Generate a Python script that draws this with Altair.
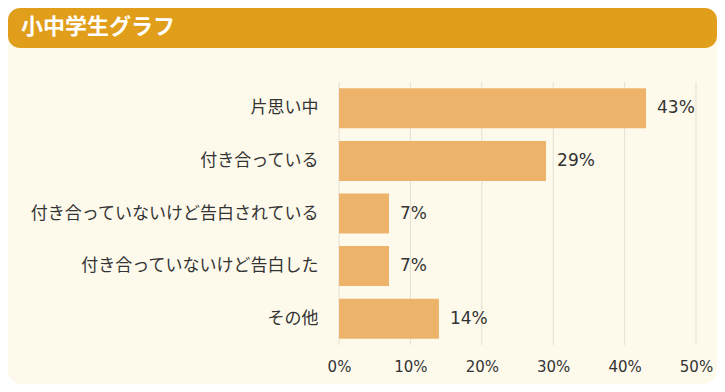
import altair as alt
import pandas as pd

title_text = "小中学生グラフ"
categories = ["片思い中", "付き合っている", "付き合っていないけど告白されている",
              "付き合っていないけど告白した", "その他"]
values = [43, 29, 7, 7, 14]
tick_values = [0, 10, 20, 30, 40, 50]

ORANGE = "#E19E1B"
CREAM = "#FDFAEC"
BAR = "#EEB36B"
GRID = "#E3E0D4"
TEXT = "#333333"
JP = "Noto Sans CJK JP"
NUM = "DejaVu Sans"

df = pd.DataFrame({"cat": categories, "val": values})
ticks_df = pd.DataFrame({"t": tick_values})
one = pd.DataFrame({"a": [0]})

W, H = 357, 263
PL, PT, PR, PB = 331, 74, 21, 39

xscale = alt.Scale(domain=[0, 50], nice=False, zero=True)
xaxis = alt.Axis(values=tick_values, labelExpr="datum.value + '%'", grid=False,
                 domain=False, ticks=False, tickSize=0, labelPadding=14, labelFlush=False,
                 labelFont=NUM, labelFontSize=15, labelColor=TEXT, title=None, zindex=1)
yaxis = alt.Axis(domain=False, ticks=False, tickSize=0, labelPadding=21,
                 labelFont=JP, labelFontSize=17, labelColor=TEXT, title=None,
                 labelLimit=400, zindex=1)

panel = alt.Chart(one).mark_rect(color=CREAM, cornerRadius=14).encode(
    x=alt.value(-PL), x2=alt.value(W + PR), y=alt.value(-PT + 20), y2=alt.value(H + PB))
header = alt.Chart(one).mark_rect(color=ORANGE, cornerRadius=12).encode(
    x=alt.value(-PL), x2=alt.value(W + PR), y=alt.value(-PT), y2=alt.value(-PT + 40))
title = alt.Chart(one).mark_text(text=title_text, align="left", baseline="middle",
                                 font=JP, fontSize=22, fontWeight="bold", color="white").encode(
    x=alt.value(-PL + 13), y=alt.value(-PT + 19))

grid = alt.Chart(ticks_df).mark_rule(color=GRID, strokeWidth=1).encode(
    x=alt.X("t:Q", scale=xscale, axis=xaxis))

bars = alt.Chart(df).mark_bar(color=BAR).encode(
    x=alt.X("val:Q", scale=xscale, axis=xaxis),
    y=alt.Y("cat:N", sort=categories,
            scale=alt.Scale(paddingInner=0.24, paddingOuter=0.12), axis=yaxis))

labels = alt.Chart(df).transform_calculate(label="datum.val + '%'").mark_text(
    align="left", baseline="middle", dx=11, font=NUM, fontSize=17, color=TEXT).encode(
    x=alt.X("val:Q", scale=xscale, axis=xaxis),
    y=alt.Y("cat:N", sort=categories, axis=yaxis),
    text="label:N")

chart = alt.layer(panel, header, title, grid, bars, labels).properties(
    width=W, height=H,
    padding={"left": PL, "top": PT, "right": PR, "bottom": PB},
    autosize=alt.AutoSizeParams(type="none"),
    background="white",
).configure_view(stroke=None)

chart.save("out.html", embed_options={"renderer": "svg", "actions": False})
